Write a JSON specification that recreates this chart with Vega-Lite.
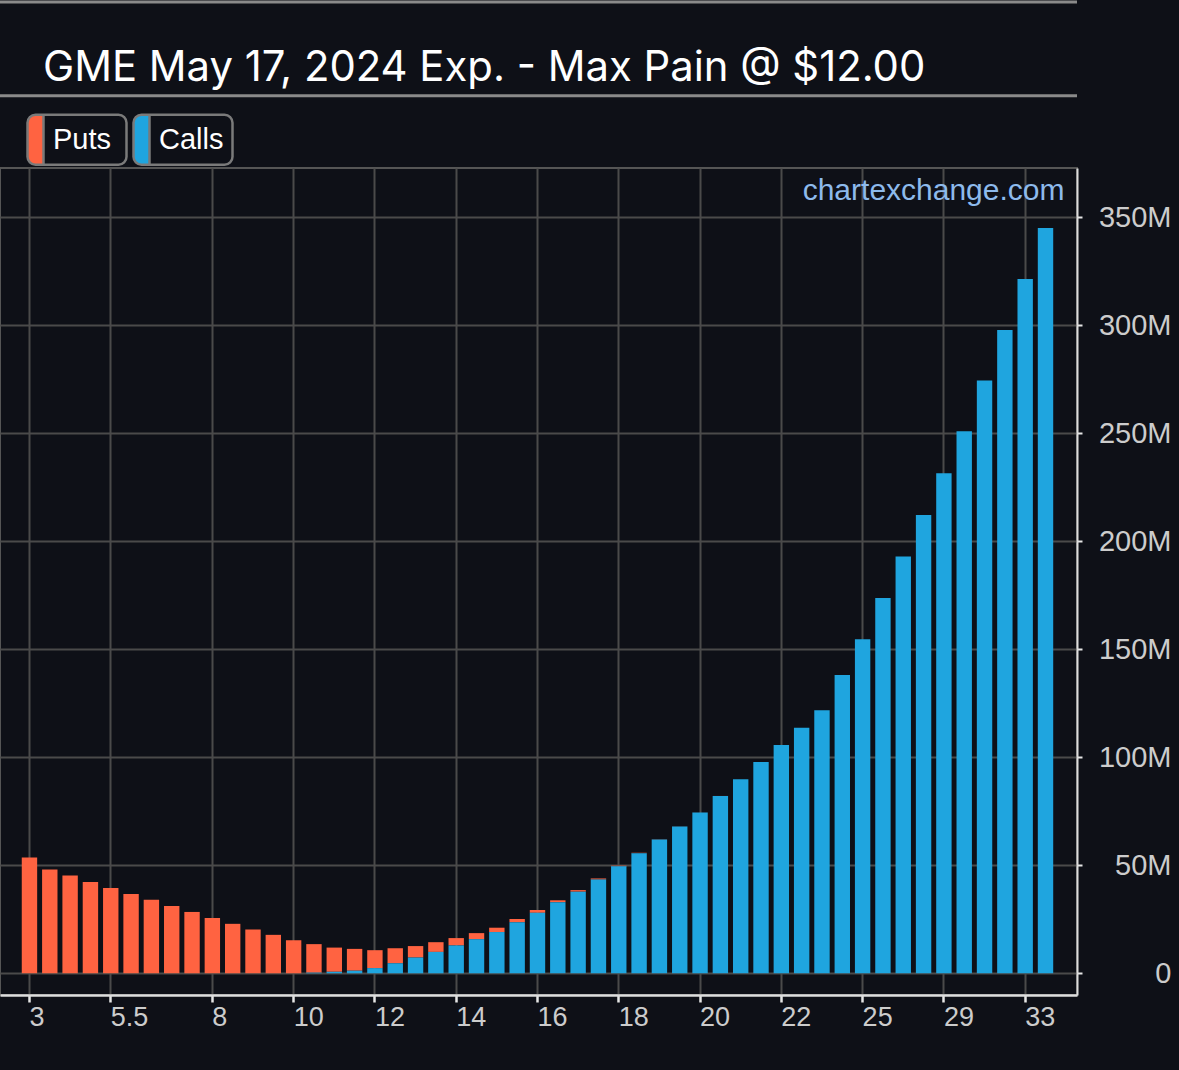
{
  "$schema": "https://vega.github.io/schema/vega-lite/v6.json",
  "width": 1077,
  "height": 827,
  "autosize": {"type": "none"},
  "padding": {"left": 0, "top": 168, "right": 102, "bottom": 75},
  "background": "#0e1017",
  "title": {
    "text": "GME May 17, 2024 Exp. - Max Pain @ $12.00",
    "anchor": "start",
    "frame": "group",
    "font": "Inter",
    "fontSize": 41.8,
    "fontWeight": "normal",
    "color": "#ffffff",
    "dx": 43,
    "baseline": "alphabetic",
    "offset": -122
  },
  "config": {
    "view": {"stroke": "#555555", "strokeWidth": 2},
    "axis": {
      "labelFont": "Liberation Sans",
      "labelColor": "#cccccc",
      "grid": true,
      "gridColor": "#4a4a4a",
      "gridWidth": 2,
      "tickColor": "#e6e6e6",
      "domainColor": "#dddddd"
    }
  },
  "layer": [
    {
      "data": {
        "values": [
          {"strike": 3, "type": "Puts", "value": 53600000}, {"strike": 3, "type": "Calls", "value": 0},
          {"strike": 4, "type": "Puts", "value": 48000000}, {"strike": 4, "type": "Calls", "value": 0},
          {"strike": 4.5, "type": "Puts", "value": 45300000}, {"strike": 4.5, "type": "Calls", "value": 0},
          {"strike": 5, "type": "Puts", "value": 42300000}, {"strike": 5, "type": "Calls", "value": 0},
          {"strike": 5.5, "type": "Puts", "value": 39500000}, {"strike": 5.5, "type": "Calls", "value": 0},
          {"strike": 6, "type": "Puts", "value": 36700000}, {"strike": 6, "type": "Calls", "value": 0},
          {"strike": 6.5, "type": "Puts", "value": 34000000}, {"strike": 6.5, "type": "Calls", "value": 0},
          {"strike": 7, "type": "Puts", "value": 31200000}, {"strike": 7, "type": "Calls", "value": 0},
          {"strike": 7.5, "type": "Puts", "value": 28400000}, {"strike": 7.5, "type": "Calls", "value": 0},
          {"strike": 8, "type": "Puts", "value": 25600000}, {"strike": 8, "type": "Calls", "value": 0},
          {"strike": 8.5, "type": "Puts", "value": 22900000}, {"strike": 8.5, "type": "Calls", "value": 0},
          {"strike": 9, "type": "Puts", "value": 20300000}, {"strike": 9, "type": "Calls", "value": 0},
          {"strike": 9.5, "type": "Puts", "value": 17800000}, {"strike": 9.5, "type": "Calls", "value": 0},
          {"strike": 10, "type": "Puts", "value": 15300000}, {"strike": 10, "type": "Calls", "value": 0},
          {"strike": 10.5, "type": "Puts", "value": 13200000}, {"strike": 10.5, "type": "Calls", "value": 300000},
          {"strike": 11, "type": "Puts", "value": 11200000}, {"strike": 11, "type": "Calls", "value": 700000},
          {"strike": 11.5, "type": "Puts", "value": 10100000}, {"strike": 11.5, "type": "Calls", "value": 1200000},
          {"strike": 12, "type": "Puts", "value": 8300000}, {"strike": 12, "type": "Calls", "value": 2400000},
          {"strike": 12.5, "type": "Puts", "value": 6950000}, {"strike": 12.5, "type": "Calls", "value": 4650000},
          {"strike": 13, "type": "Puts", "value": 5300000}, {"strike": 13, "type": "Calls", "value": 7300000},
          {"strike": 13.5, "type": "Puts", "value": 4500000}, {"strike": 13.5, "type": "Calls", "value": 9900000},
          {"strike": 14, "type": "Puts", "value": 3400000}, {"strike": 14, "type": "Calls", "value": 12900000},
          {"strike": 14.5, "type": "Puts", "value": 2800000}, {"strike": 14.5, "type": "Calls", "value": 15800000},
          {"strike": 15, "type": "Puts", "value": 2000000}, {"strike": 15, "type": "Calls", "value": 19100000},
          {"strike": 15.5, "type": "Puts", "value": 1500000}, {"strike": 15.5, "type": "Calls", "value": 23600000},
          {"strike": 16, "type": "Puts", "value": 1300000}, {"strike": 16, "type": "Calls", "value": 28000000},
          {"strike": 16.5, "type": "Puts", "value": 900000}, {"strike": 16.5, "type": "Calls", "value": 32900000},
          {"strike": 17, "type": "Puts", "value": 700000}, {"strike": 17, "type": "Calls", "value": 37800000},
          {"strike": 17.5, "type": "Puts", "value": 500000}, {"strike": 17.5, "type": "Calls", "value": 43400000},
          {"strike": 18, "type": "Puts", "value": 300000}, {"strike": 18, "type": "Calls", "value": 49500000},
          {"strike": 18.5, "type": "Puts", "value": 200000}, {"strike": 18.5, "type": "Calls", "value": 55600000},
          {"strike": 19, "type": "Puts", "value": 100000}, {"strike": 19, "type": "Calls", "value": 61900000},
          {"strike": 19.5, "type": "Puts", "value": 50000}, {"strike": 19.5, "type": "Calls", "value": 68000000},
          {"strike": 20, "type": "Puts", "value": 30000}, {"strike": 20, "type": "Calls", "value": 74400000},
          {"strike": 20.5, "type": "Puts", "value": 20000}, {"strike": 20.5, "type": "Calls", "value": 82100000},
          {"strike": 21, "type": "Puts", "value": 10000}, {"strike": 21, "type": "Calls", "value": 89800000},
          {"strike": 21.5, "type": "Puts", "value": 0}, {"strike": 21.5, "type": "Calls", "value": 97800000},
          {"strike": 22, "type": "Puts", "value": 0}, {"strike": 22, "type": "Calls", "value": 105700000},
          {"strike": 22.5, "type": "Puts", "value": 0}, {"strike": 22.5, "type": "Calls", "value": 113700000},
          {"strike": 23, "type": "Puts", "value": 0}, {"strike": 23, "type": "Calls", "value": 121800000},
          {"strike": 24, "type": "Puts", "value": 0}, {"strike": 24, "type": "Calls", "value": 138100000},
          {"strike": 25, "type": "Puts", "value": 0}, {"strike": 25, "type": "Calls", "value": 154600000},
          {"strike": 26, "type": "Puts", "value": 0}, {"strike": 26, "type": "Calls", "value": 173700000},
          {"strike": 27, "type": "Puts", "value": 0}, {"strike": 27, "type": "Calls", "value": 192900000},
          {"strike": 28, "type": "Puts", "value": 0}, {"strike": 28, "type": "Calls", "value": 212200000},
          {"strike": 29, "type": "Puts", "value": 0}, {"strike": 29, "type": "Calls", "value": 231500000},
          {"strike": 30, "type": "Puts", "value": 0}, {"strike": 30, "type": "Calls", "value": 250900000},
          {"strike": 31, "type": "Puts", "value": 0}, {"strike": 31, "type": "Calls", "value": 274400000},
          {"strike": 32, "type": "Puts", "value": 0}, {"strike": 32, "type": "Calls", "value": 297800000},
          {"strike": 33, "type": "Puts", "value": 0}, {"strike": 33, "type": "Calls", "value": 321400000},
          {"strike": 34, "type": "Puts", "value": 0}, {"strike": 34, "type": "Calls", "value": 345000000}
        ]
      },
      "mark": {"type": "bar", "width": {"band": 0.758}},
      "encoding": {
        "x": {
          "field": "strike",
          "type": "ordinal",
          "title": null,
          "scale": {"paddingInner": 0, "paddingOuter": 1, "align": 0.475},
          "axis": {
            "values": [3, 5.5, 8, 10, 12, 14, 16, 18, 20, 22, 25, 29, 33],
            "title": null,
            "labelAngle": 0,
            "labelAlign": "left",
            "labelBaseline": "top",
            "labelDx": 3,
            "labelPadding": 2,
            "labelFontSize": 27,
            "labelOverlap": false,
            "tickSize": 7,
            "tickWidth": 2.5,
            "domainWidth": 2.5
          }
        },
        "y": {
          "field": "value",
          "type": "quantitative",
          "title": null,
          "stack": "zero",
          "scale": {"domain": [-10050000, 372800000], "nice": false, "zero": false},
          "axis": {
            "orient": "right",
            "values": [0, 50000000, 100000000, 150000000, 200000000, 250000000, 300000000, 350000000],
            "labelExpr": "datum.value == 0 ? '0' : format(datum.value, '~s')",
            "title": null,
            "labelAlign": "right",
            "labelBaseline": "middle",
            "labelPadding": 89,
            "labelFontSize": 29,
            "tickSize": 5,
            "tickWidth": 2,
            "domainWidth": 2
          }
        },
        "color": {
          "field": "type",
          "type": "nominal",
          "scale": {"domain": ["Puts", "Calls"], "range": ["#ff6341", "#1fa5df"]},
          "legend": {
            "title": null,
            "orient": "none",
            "legendX": 26,
            "legendY": -55,
            "direction": "horizontal",
            "padding": 0,
            "columnPadding": -4,
            "symbolType": "M-0.68,-1H2.64A0.32,0.32 0 0 1 2.96,-0.68V0.68A0.32,0.32 0 0 1 2.64,1H-0.68A0.32,0.32 0 0 1 -1,0.68V-0.68A0.32,0.32 0 0 1 -0.68,-1A0.32,0.32 0 0 0 -1,-0.68V0.68A0.32,0.32 0 0 0 -0.68,1H2.64A0.32,0.32 0 0 0 2.96,0.68V-0.68A0.32,0.32 0 0 0 2.64,-1H-0.68M-0.68,-1H-0.36V1H-0.68A0.32,0.32 0 0 1 -1,0.68V-0.68A0.32,0.32 0 0 1 -0.68,-1Z",
            "symbolSize": 2500,
            "symbolStrokeColor": "#7a7a7a",
            "symbolStrokeWidth": 2.5,
            "symbolOpacity": 1,
            "labelColor": "#ffffff",
            "labelFont": "Liberation Sans",
            "labelFontSize": 29,
            "labelOffset": -26
          }
        },
        "order": {"field": "type", "sort": "ascending"}
      }
    },
    {
      "data": {"values": [{"site": "chartexchange.com"}]},
      "mark": {
        "type": "text",
        "align": "right",
        "baseline": "alphabetic",
        "font": "Liberation Sans",
        "fontSize": 30,
        "color": "#8dbaec",
        "dx": 19
      },
      "encoding": {
        "x": {"datum": 34, "type": "ordinal", "title": null},
        "y": {"datum": 358000000, "type": "quantitative", "title": null},
        "text": {"field": "site"}
      }
    },
    {
      "data": {"values": [{}]},
      "mark": {"type": "rule", "color": "#8a8a8a", "strokeWidth": 3},
      "encoding": {"y": {"datum": 406200000, "type": "quantitative", "title": null}}
    },
    {
      "data": {"values": [{}]},
      "mark": {"type": "rule", "color": "#8a8a8a", "strokeWidth": 3},
      "encoding": {"y": {"datum": 449700000, "type": "quantitative", "title": null}}
    }
  ]
}
